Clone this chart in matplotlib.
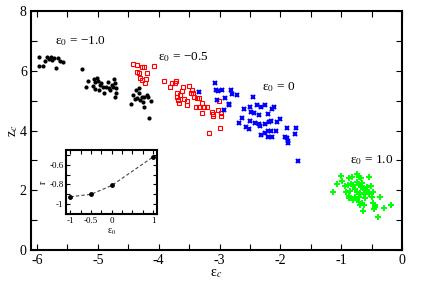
#!/usr/bin/env python

import matplotlib
matplotlib.use("Agg")
import matplotlib.pyplot as plt
from matplotlib.ticker import MultipleLocator, FixedLocator, FixedFormatter

# eps0 = -1.0 (black dots)
x_m10 = [-5.97, -5.90, -5.87, -5.84, -5.80, -5.77, -5.75, -5.72, -5.69, -5.65,
         -5.62, -5.57, -5.97, -5.26,
         -5.17, -5.19, -5.08, -5.06, -5.05, -5.02, -5.00, -4.99, -4.96, -4.95,
         -4.91, -4.90, -4.84, -4.82, -4.80, -4.77, -4.75, -4.73, -4.72, -4.71,
         -4.72, -4.70, -5.05, -4.87,
         -4.45, -4.42, -4.37, -4.35, -4.33, -4.32, -4.31, -4.28, -4.26, -4.24,
         -4.24, -4.20, -4.17, -4.12, -4.16, -4.39]
y_m10 = [6.47, 6.16, 6.33, 6.47, 6.40, 6.47, 6.37, 6.43, 6.10, 6.43,
         6.33, 6.30, 6.16, 6.06,
         5.66, 5.45, 5.51, 5.72, 5.64, 5.78, 5.67, 5.36, 5.53, 5.58,
         5.45, 5.27, 5.64, 5.42, 5.36, 5.53, 5.45, 5.73, 5.60, 5.27,
         5.12, 5.42, 5.38, 5.45,
         4.89, 5.19, 5.36, 5.10, 5.25, 5.42, 5.03, 5.14, 4.97, 4.80,
         5.14, 5.19, 5.14, 5.00, 4.41, 5.05]

# eps0 = -0.5 (red open squares)
x_m05 = [-4.43, -4.36, -4.28, -4.24, -4.35, -4.32, -4.20, -4.31, -4.28, -4.21,
         -4.22, -4.08, -3.91, -3.81, -3.78, -3.73, -3.71, -3.60, -3.70, -3.70,
         -3.62, -3.65, -3.58, -3.69, -3.66, -3.54, -3.53, -3.47, -3.46, -3.50,
         -3.43, -3.42, -3.37, -3.33, -3.38, -3.33, -3.29, -3.25, -3.21, -3.13,
         -3.11, -3.02, -3.18, -3.00, -3.29, -3.11, -2.98, -3.01, -2.97, -3.26]
y_m05 = [6.22, 6.19, 6.14, 6.14, 5.97, 5.94, 5.94, 5.78, 5.70, 5.73,
         5.58, 6.16, 5.67, 5.47, 5.58, 5.58, 5.66, 5.45, 5.27, 5.14,
         5.34, 5.19, 5.05, 5.03, 4.94, 4.86, 5.00, 5.25, 5.36, 5.49,
         5.27, 5.12, 5.10, 5.10, 4.78, 4.80, 4.60, 4.80, 4.80, 4.63,
         4.55, 4.69, 3.91, 4.10, 4.91, 4.49, 4.49, 4.99, 4.60, 4.78]

# eps0 = 0 (blue crosses)
x_0 = [-3.34, -3.07, -3.06, -3.02, -2.96, -3.04, -2.91, -2.81, -2.80, -2.72,
       -2.84, -2.92, -2.85, -2.45, -2.60, -2.50, -2.39, -2.32, -2.25, -2.14,
       -2.10, -2.49, -2.44, -2.63, -2.35, -2.20, -2.50, -2.41, -2.68, -2.57,
       -2.51, -2.35, -2.33, -2.25, -2.18, -2.16, -2.06, -2.00, -2.25, -2.32,
       -2.20, -2.16, -2.20, -2.13, -2.07, -1.89, -1.75, -1.76, -1.92, -1.89,
       -1.88, -1.88, -1.71]
y_0 = [5.29, 5.60, 5.36, 5.34, 5.36, 5.03, 5.08, 5.36, 5.23, 5.19,
       4.89, 4.69, 4.86, 5.12, 4.72, 4.80, 4.86, 4.78, 4.86, 4.71,
       4.80, 4.63, 4.58, 4.41, 4.52, 4.56, 4.32, 4.24, 4.26, 4.13,
       4.05, 4.22, 4.15, 4.22, 4.30, 4.32, 4.30, 4.39, 3.93, 3.85,
       4.00, 4.00, 3.80, 3.80, 4.00, 4.10, 4.10, 3.89, 3.80, 3.74,
       3.66, 3.59, 2.99]

# eps0 = 1.0 (green plus)
x_p10 = [-1.00, -0.99, -1.07, -1.13, -0.93, -0.88, -0.82, -0.74, -0.70, -0.68,
         -0.55, -0.74, -0.89, -0.84, -0.80, -0.71, -0.67, -0.63, -0.61, -0.51,
         -0.48, -0.55, -0.55, -0.77, -0.74, -0.69, -0.63, -0.86, -0.92, -0.87,
         -0.87, -0.77, -0.74, -0.71, -0.70, -0.66, -0.69, -0.62, -0.64, -0.50,
         -0.47, -0.45, -0.44, -0.46, -0.36, -0.30, -0.39, -0.18, -0.61, -0.81,
         -0.58, -0.66]
y_p10 = [2.49, 2.32, 2.20, 1.93, 2.14, 2.40, 2.46, 2.54, 2.46, 2.40,
         2.46, 2.29, 2.18, 2.21, 2.18, 2.18, 2.10, 2.07, 2.01, 2.14,
         1.95, 1.95, 1.88, 2.03, 1.95, 1.92, 1.88, 1.99, 1.95, 1.82,
         1.73, 1.79, 1.71, 1.79, 1.62, 1.56, 1.51, 1.51, 1.31, 1.79,
         1.56, 1.51, 1.43, 1.37, 1.79, 1.40, 1.10, 1.51, 1.73, 1.68,
         2.12, 2.23]

# inset: r vs eps0
eps0 = [-1.0, -0.5, 0.0, 1.0]
r_vals = [-0.925, -0.90, -0.81, -0.52]

labels = ["ε$_0$ = −1.0", "ε$_0$ = −0.5", "ε$_0$ = 0", "ε$_0$ = 1.0"]
label_pos = [(-5.70, 6.90), (-4.01, 6.37), (-2.30, 5.36), (-0.85, 2.91)]


def style_axes(ax, lw):
    for s in ax.spines.values():
        s.set_linewidth(lw)
    ax.tick_params(which="both", direction="in", top=True, right=True,
                   width=0.8, length=4.5)


def main() -> int:
    plt.rcParams["font.family"] = ["Liberation Serif", "DejaVu Serif"]
    plt.rcParams["mathtext.fontset"] = "stix"
    plt.rcParams["axes.unicode_minus"] = False

    fig = plt.figure(figsize=(4.36, 2.89), dpi=100)
    ax = fig.add_axes([0.0711, 0.135, 0.851, 0.826])

    ax.plot(x_m10, y_m10, "o", color="black", ms=3, mew=0)
    ax.plot(x_m05, y_m05, "s", color="red", mfc="none", ms=3, mew=0.8)
    ax.plot(x_0, y_0, "x", color="blue", ms=3.2, mew=1.5)
    ax.plot(x_p10, y_p10, "+", color="#00ff00", ms=4, mew=1.4)

    for txt, (tx, ty) in zip(labels, label_pos):
        ax.text(tx, ty, txt, fontsize=9.5, ha="left", va="baseline")

    ax.set_xlim(-6.1, 0)
    ax.set_ylim(0, 8)
    ax.xaxis.set_major_locator(MultipleLocator(1))
    ax.xaxis.set_minor_locator(MultipleLocator(0.5))
    ax.yaxis.set_major_locator(MultipleLocator(2))
    ax.yaxis.set_minor_locator(MultipleLocator(1))
    style_axes(ax, 1.5)
    ax.tick_params(labelsize=10, pad=3)
    ax.set_xlabel("ε$_c$", fontsize=10, labelpad=0)
    ax.set_ylabel("z$_c$", fontsize=10, labelpad=0)

    # inset
    ins = fig.add_axes([0.152, 0.2595, 0.2087, 0.2215])
    ins.plot(eps0, r_vals, "--", color="#444444", lw=0.8, dashes=(3, 2))
    ins.plot(eps0, r_vals, "o", color="black", ms=3.5, mew=0)
    ins.set_xlim(-1.1, 1.1)
    ins.set_ylim(-1.1, -0.45)
    ins.xaxis.set_major_locator(FixedLocator([-1, -0.5, 0, 0.5, 1]))
    ins.xaxis.set_major_formatter(FixedFormatter(["-1", "-0.5", "0", "", "1"]))
    ins.xaxis.set_minor_locator(MultipleLocator(0.25))
    ins.yaxis.set_major_locator(FixedLocator([-1, -0.8, -0.6]))
    ins.yaxis.set_major_formatter(FixedFormatter(["-1", "-0.8", "-0.6"]))
    ins.yaxis.set_minor_locator(MultipleLocator(0.1))
    style_axes(ins, 1.5)
    ins.tick_params(which="both", length=3, labelsize=6.5, pad=2)
    ins.set_xlabel("ε$_0$", fontsize=7, labelpad=1)
    ins.set_ylabel("r", fontsize=7, labelpad=1)

    fig.savefig("out.png", dpi=100)
    return 0


if __name__ == "__main__":
    main()
